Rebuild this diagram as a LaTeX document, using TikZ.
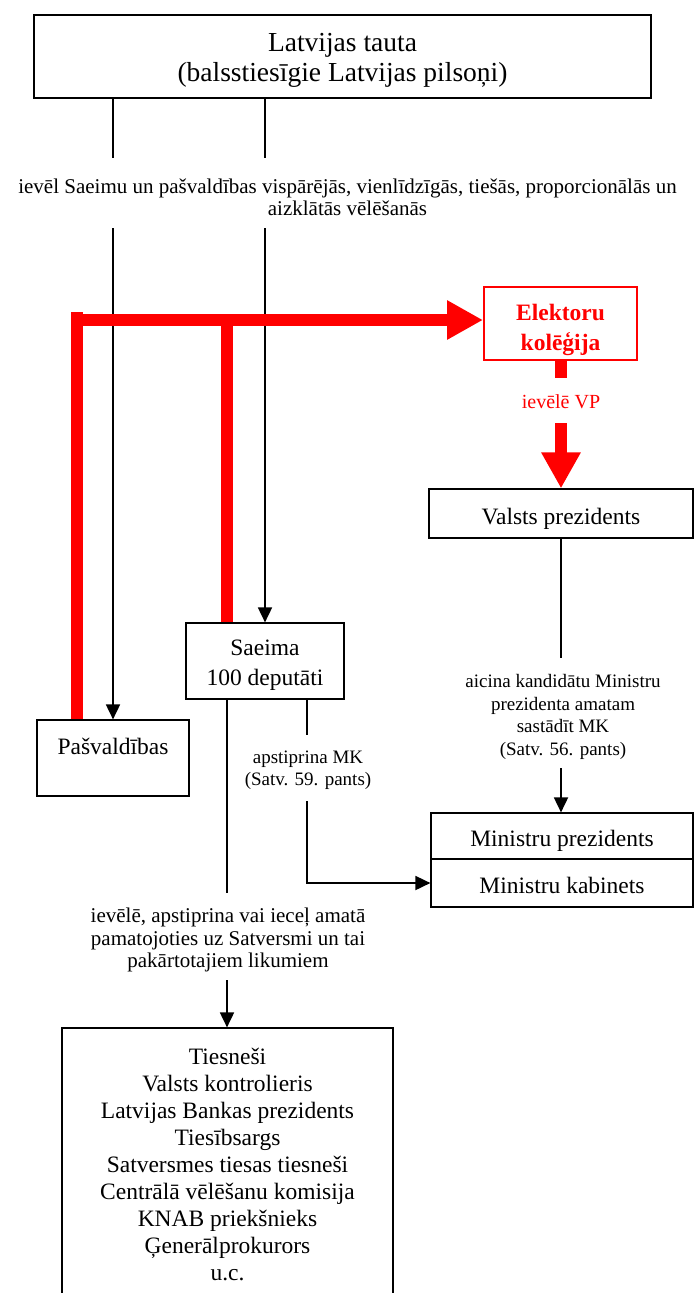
\documentclass[tikz,border=0pt]{standalone}
\usepackage{fontspec}
\setmainfont{Liberation Serif}
\usetikzlibrary{arrows.meta}
\begin{document}
\begin{tikzpicture}[x=1pt,y=-1pt,
  box/.style={draw=black, line width=1.2pt, inner sep=0pt},
  ebox/.style={draw=red, line width=2pt, inner sep=0pt},
  txt/.style={inner sep=0pt, align=center, font=\fontsize{23.5}{30}\selectfont},
  toptxt/.style={inner sep=0pt, align=center, font=\fontsize{27.5}{30}\selectfont},
  etxt/.style={inner sep=0pt, align=center, text=red, font=\bfseries\fontsize{23.5}{30}\selectfont},
  big/.style={inner sep=0pt, align=center, font=\fontsize{23.5}{27}\selectfont},
  lab/.style={inner sep=0pt, align=center, font=\fontsize{#1}{22.4}\selectfont},
  lab/.default=19,
  conn/.style={draw=black, line width=1.8pt},
  thinconn/.style={draw=black, line width=1.1pt},
  arr/.style={-{Triangle[length=15pt,width=14pt]}},
  redl/.style={draw=red, line width=12.5pt},
  redarr/.style={draw=red, line width=12.5pt, -{Triangle[length=36pt,width=37pt]}}]
\useasboundingbox (0,0) rectangle (694,1293);

% boxes
\node[box, minimum width=617pt, minimum height=83pt] (tauta) at (342.5,56.5) {};
\node[toptxt] (tautat) at (342.5,60) {Latvijas tauta\\(balsstiesīgie Latvijas pilsoņi)};
\node[ebox, minimum width=153pt, minimum height=73pt] (elek) at (560.5,323.5) {};
\node[etxt] (elekt) at (560.5,329.5) {Elektoru\\kolēģija};
\node[box, minimum width=264pt, minimum height=49pt] (vp) at (561,513.5) {};
\node[txt] (vpt) at (561,518.5) {Valsts prezidents};
\node[box, minimum width=158pt, minimum height=76pt] (saeima) at (265,661) {};
\node[txt] (saeimat) at (265,665) {Saeima\\100 deputāti};
\node[box, minimum width=152pt, minimum height=76pt] (pasv) at (113,758) {};
\node[txt] (pasvt) at (113,746) {Pašvaldības};
\node[box, minimum width=262pt, minimum height=46pt] (mp) at (562,836) {};
\node[txt] (mpt) at (562,841) {Ministru prezidents};
\node[box, minimum width=262pt, minimum height=48pt] (mk) at (562,883) {};
\node[txt] (mkt) at (562,885) {Ministru kabinets};
\node[box, minimum width=331pt, minimum height=276pt] (ties) at (227.5,1166) {};
\node[big] (tiest) at (227.5,1164.5) {Tiesneši\\Valsts kontrolieris\\Latvijas Bankas prezidents\\Tiesībsargs\\Satversmes tiesas tiesneši\\Centrālā vēlēšanu komisija\\KNAB priekšnieks\\Ģenerālprokurors\\u.c.};

% labels
\node[lab=21] (vel) at (347.5,197) {ievēl Saeimu un pašvaldības vispārējās, vienlīdzīgās, tiešās, proporcionālās un\\aizklātās vēlēšanās};
\node[lab=20, text=red] (ivp) at (561,402) {ievēlē VP};
\node[lab] (aic) at (563,717) {aicina kandidātu Ministru\\prezidenta amatam\\sastādīt MK\\(Satv. 56. pants)};
\node[lab] (apst) at (308,770) {apstiprina MK\\(Satv. 59. pants)};
\node[lab=21] (iecel) at (228,940) {ievēlē, apstiprina vai ieceļ amatā\\pamatojoties uz Satversmi un tai\\pakārtotajiem likumiem};

% coordinates
\coordinate (a1) at (113,158);
\coordinate (a2) at (113,228);
\coordinate (b1) at (265,158);
\coordinate (b2) at (265,228);
\coordinate (r0) at (71,320);
\coordinate (rl) at (77,312);
\coordinate (rs) at (227,326);
\coordinate (s1) at (561,378);
\coordinate (s2) at (561,423);
\coordinate (v1) at (561,658);
\coordinate (v2) at (561,768);
\coordinate (k1) at (227,893);
\coordinate (k2) at (227,980);
\coordinate (m1) at (307,735);
\coordinate (m2) at (307,801);
\coordinate (m3) at (307,883);

% black connectors
\draw[conn] (tauta.south -| a1) -- (a1);
\draw[conn, arr] (a2) -- (a2 |- pasv.north);
\draw[conn] (tauta.south -| b1) -- (b1);
\draw[conn, arr] (b2) -- (b2 |- saeima.north);
\draw[conn] (vp.south -| v1) -- (v1);
\draw[conn, arr] (v2) -- (v2 |- mp.north);
\draw[conn] (saeima.south -| k1) -- (k1);
\draw[conn, arr] (k2) -- (k2 |- ties.north);
\draw[thinconn] (saeima.south -| m1) -- (m1);
\draw[conn, arr] (m2) -- (m3) -- (m3 -| mk.west);

% red connectors
\draw[redl] (rl) -- (rl |- pasv.north);
\draw[redarr] (r0) -- (r0 -| elek.west);
\draw[redl] (rs) -- (rs |- saeima.north);
\draw[redl] (elek.south -| s1) -- (s1);
\draw[redarr] (s2) -- (s2 |- vp.north);
\end{tikzpicture}
\end{document}
